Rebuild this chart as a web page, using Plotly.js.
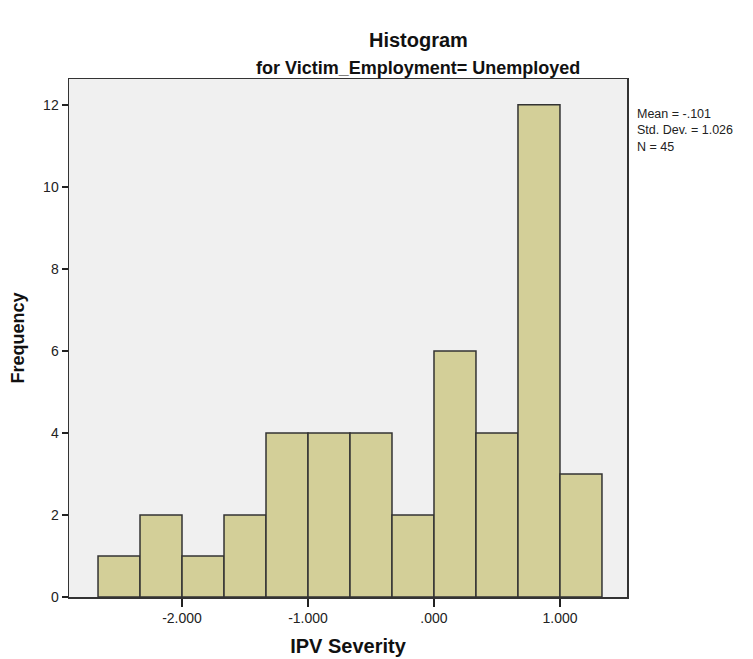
<!DOCTYPE html>
<html>
<head>
<meta charset="utf-8">
<script src="https://cdn.plot.ly/plotly-3.0.1.min.js"></script>
<style>
  html, body { margin: 0; padding: 0; background: #ffffff; }
  #chart { width: 753px; height: 659px; }
</style>
</head>
<body>
<div id="chart"></div>
<script>
// Data (bin width = 1/3)
const binCenters = [-2.5, -2.1667, -1.8333, -1.5, -1.1667, -0.8333, -0.5, -0.1667, 0.1667, 0.5, 0.8333, 1.1667];
const frequencies = [1, 2, 1, 2, 4, 4, 4, 2, 6, 4, 12, 3];
const binWidth = 0.3333;
const xTickValues = [-2, -1, 0, 1];
const xTickLabels = ["-2.000", "-1.000", ".000", "1.000"];
const yTickValues = [0, 2, 4, 6, 8, 10, 12];
const statsLines = ["Mean = -.101", "Std. Dev. = 1.026", "N = 45"];

const FONT = "Arial, 'Liberation Sans', sans-serif";
const PLOT_H = 518, PLOT_W = 558;

const trace = {
  type: "bar",
  x: binCenters,
  y: frequencies,
  width: binCenters.map(() => binWidth),
  marker: { color: "#D3CF98", line: { color: "#333333", width: 1.5 } },
  hoverinfo: "x+y"
};

const annotations = [
  { text: "Histogram", xref: "paper", yref: "paper", x: 0.626, y: 1 + 39/PLOT_H, xanchor: "center", yanchor: "middle", showarrow: false,
    font: { family: FONT, size: 20, color: "#111111", weight: "bold" } },
  { text: "for Victim_Employment= Unemployed", xref: "paper", yref: "paper", x: 0.626, y: 1 + 11/PLOT_H, xanchor: "center", yanchor: "middle", showarrow: false,
    font: { family: FONT, size: 18, color: "#111111", weight: "bold" } },
  { text: statsLines.join("<br>"), xref: "paper", yref: "paper", x: 1 + 8/PLOT_W, y: (597 - 105) / PLOT_H,
    xanchor: "left", yanchor: "top", align: "left", showarrow: false, font: { family: FONT, size: 12.5, color: "#222222" } }
];

const layout = {
  width: 753, height: 659,
  margin: { l: 69, r: 126, t: 79, b: 62, pad: 0 },
  paper_bgcolor: "#ffffff",
  plot_bgcolor: "#F0F0F0",
  showlegend: false,
  bargap: 0,
  xaxis: {
    range: [-2.897, 1.532],
    tickvals: xTickValues, ticktext: xTickLabels,
    ticks: "outside", ticklen: 8, tickwidth: 1.5, tickcolor: "#222222",
    showline: true, mirror: true, linecolor: "#333333", linewidth: 1.5,
    showgrid: false, zeroline: false,
    tickfont: { family: FONT, size: 14, color: "#222222" },
    title: { text: "IPV Severity", standoff: 13, font: { family: FONT, size: 20, color: "#111111", weight: "bold" } }
  },
  yaxis: {
    range: [0, 12.63],
    tickvals: yTickValues,
    ticks: "outside", ticklen: 6, tickwidth: 1.5, tickcolor: "#222222",
    showline: true, mirror: true, linecolor: "#333333", linewidth: 1.5,
    showgrid: false, zeroline: false,
    tickfont: { family: FONT, size: 14, color: "#222222" },
    title: { text: "Frequency", standoff: 14, font: { family: FONT, size: 18, color: "#111111", weight: "bold" } }
  },
  annotations: annotations
};

Plotly.newPlot("chart", [trace], layout, { displayModeBar: false, staticPlot: true });
</script>
</body>
</html>
